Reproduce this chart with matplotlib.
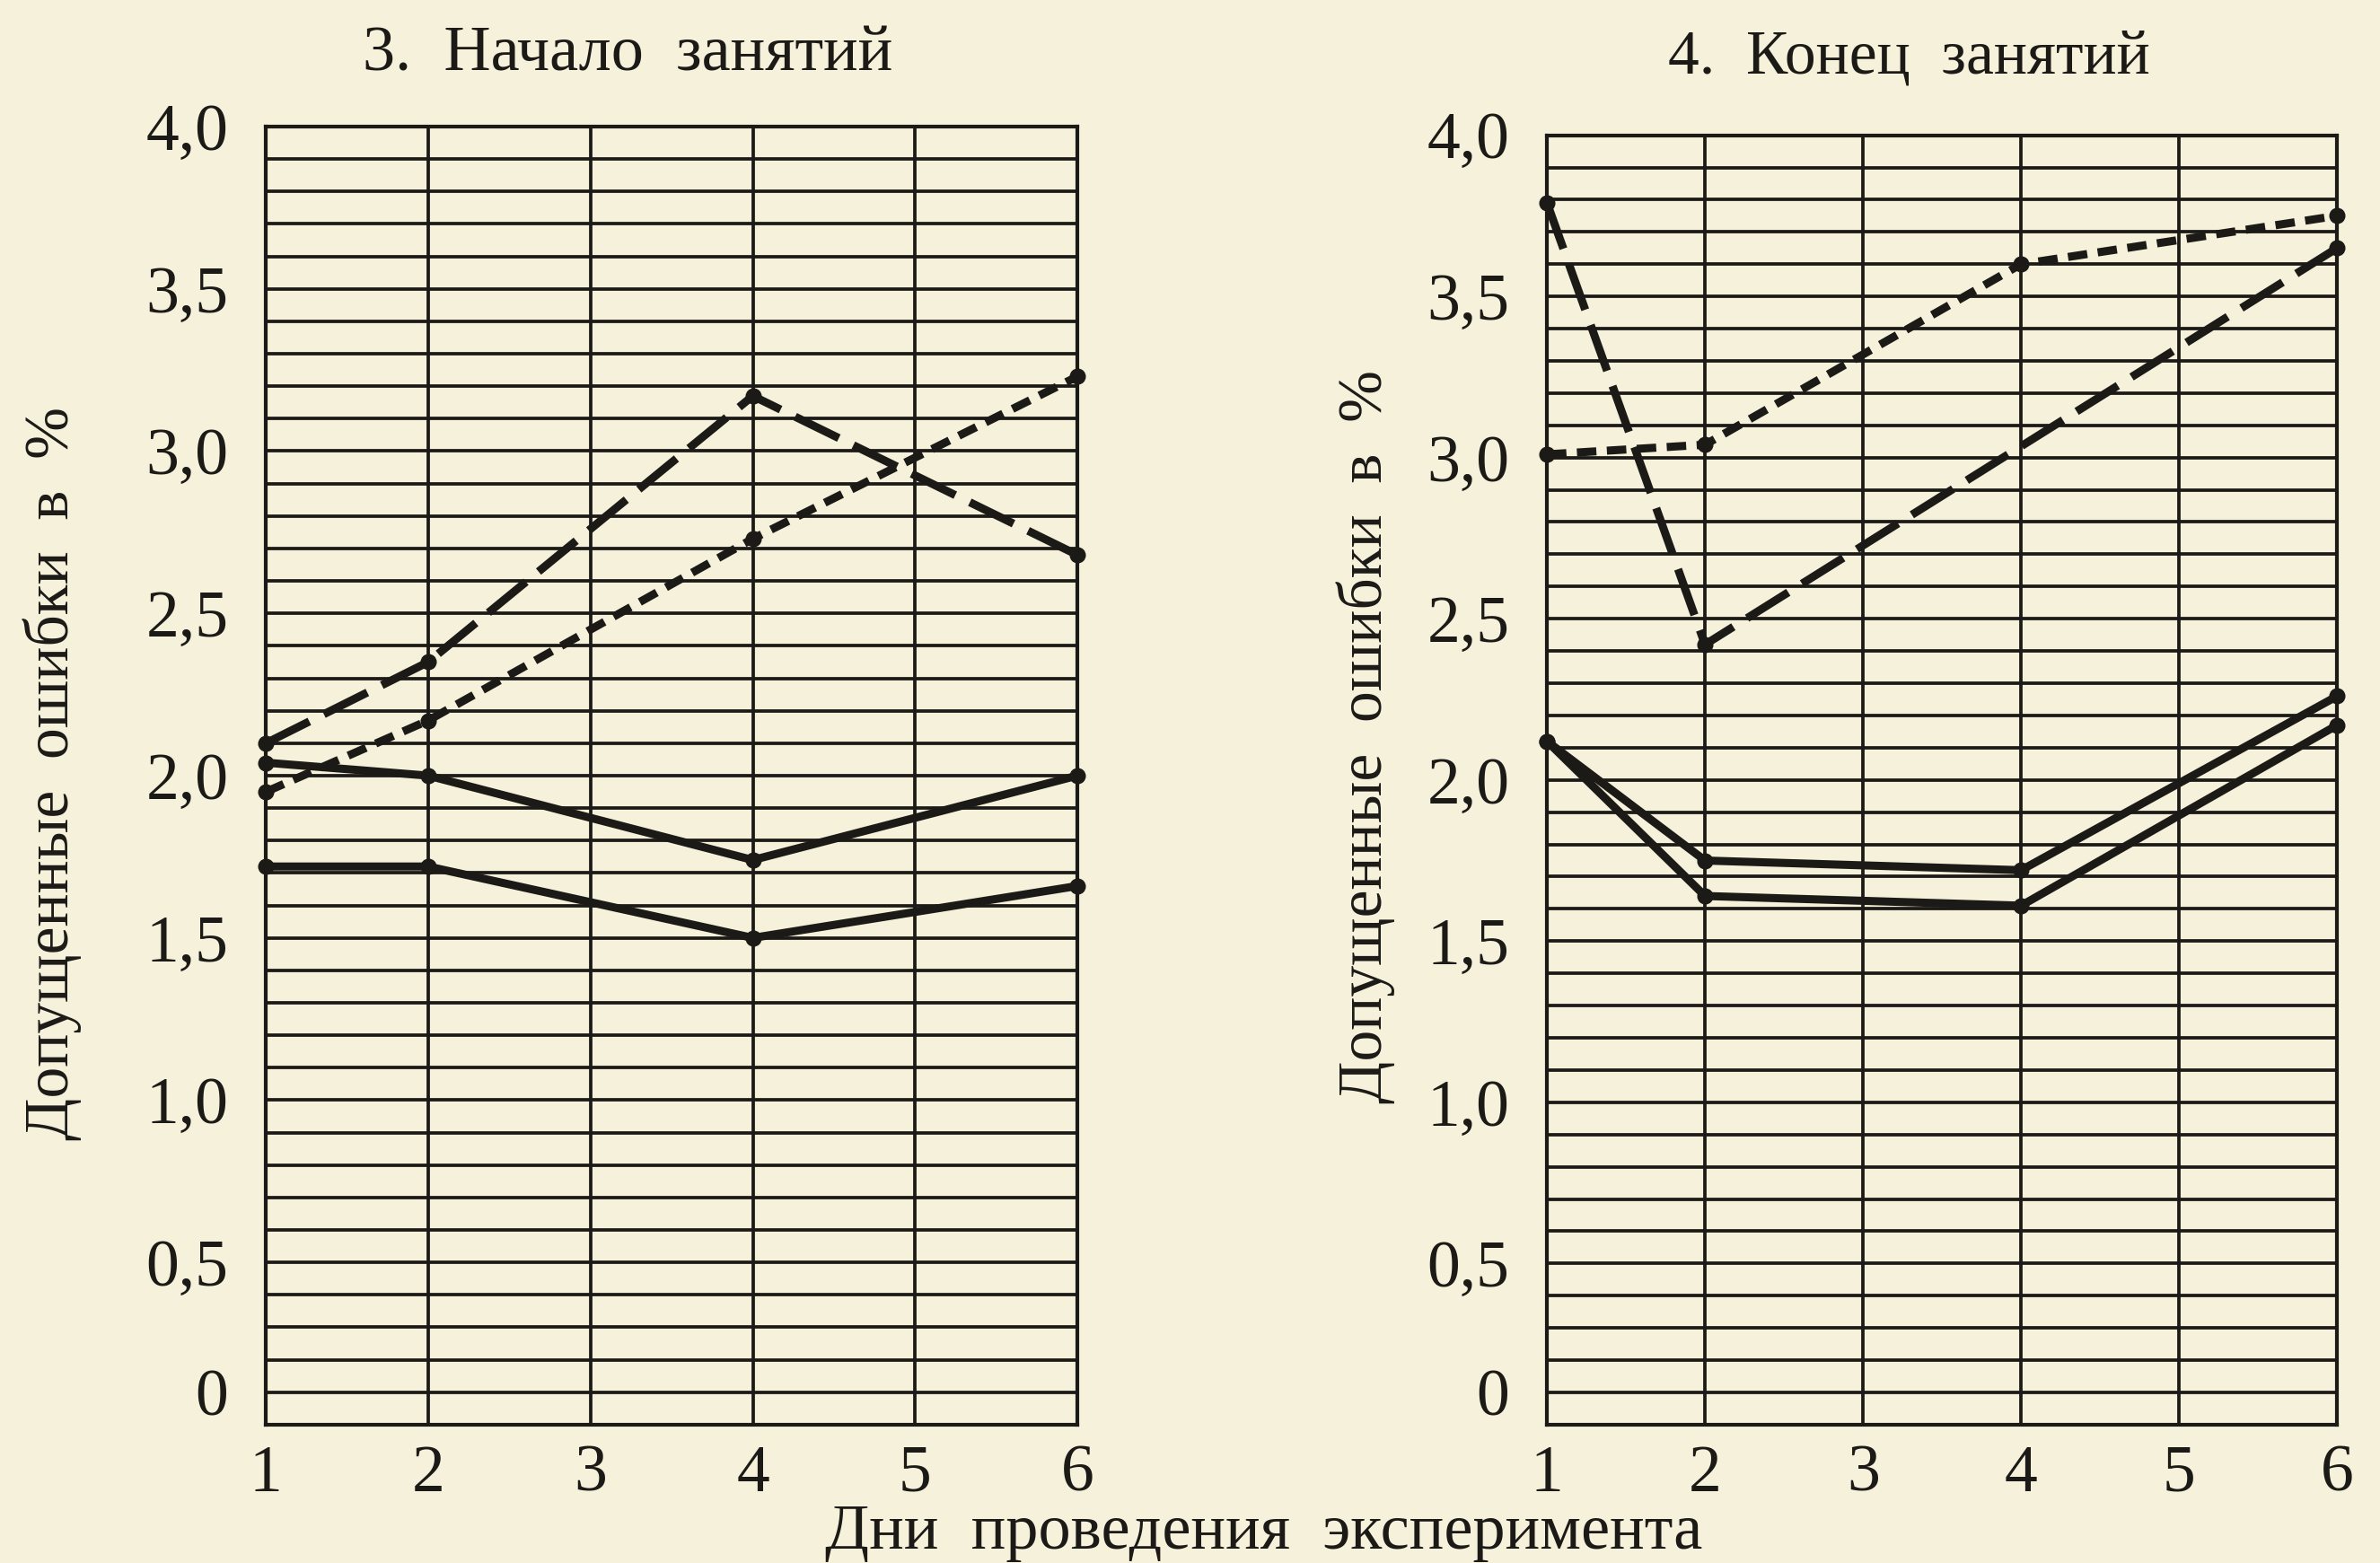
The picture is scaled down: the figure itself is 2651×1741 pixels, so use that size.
import matplotlib
matplotlib.use("Agg")
import matplotlib.pyplot as plt
import numpy as np

plt.rcParams["font.family"] = ["Liberation Serif", "DejaVu Serif"]

# --- data ---
days = [1, 2, 4, 6]
day_ticks = [1, 2, 3, 4, 5, 6]
ytick_pos = [0.1, 0.5, 1.0, 1.5, 2.0, 2.5, 3.0, 3.5, 4.0]   # "0" sits one cell up in the original
ytick_lab = ["0", "0,5", "1,0", "1,5", "2,0", "2,5", "3,0", "3,5", "4,0"]

# panel 3: start of lessons
start_long = [2.10, 2.35, 3.17, 2.68]
start_short = [1.95, 2.17, 2.73, 3.23]
start_solid_a = [2.04, 2.00, 1.74, 2.00]
start_solid_b = [1.72, 1.72, 1.50, 1.66]

# panel 4: end of lessons
end_long_days = [1, 2, 6]
end_long = [3.79, 2.42, 3.65]
end_short = [3.01, 3.04, 3.60, 3.75]
end_solid_a = [2.12, 1.75, 1.72, 2.26]
end_solid_b = [2.12, 1.64, 1.61, 2.17]

BG = "#f5f1da"
INK = "#1c1a17"
LONG = (6.0, 2.0)
SHORT = (2.4, 1.3)


def panel(ax, series):
    ax.set_facecolor(BG)
    ax.set_xlim(1, 6)
    ax.set_ylim(0, 4)
    # graph-paper grid
    ax.hlines(np.arange(0.1, 4.0, 0.1), 1, 6, color=INK, lw=2.7, zorder=1)
    ax.vlines([2, 3, 4, 5], 0, 4, color=INK, lw=2.7, zorder=1)
    for s in ax.spines.values():
        s.set_color(INK)
        s.set_linewidth(3.0)
    for x, y, dash in series:
        kw = dict(color=INK, lw=6.5, marker="o", ms=12, clip_on=False, zorder=3,
                  solid_capstyle="round", dash_capstyle="butt")
        if dash is None:
            ax.plot(x, y, ls="-", **kw)
        else:
            ax.plot(x, y, dashes=dash, **kw)
    ax.set_xticks(day_ticks)
    ax.set_xticklabels([str(d) for d in day_ticks])
    ax.set_yticks(ytick_pos)
    ax.set_yticklabels(ytick_lab)
    ax.tick_params(axis="both", length=0, labelsize=53, colors=INK)
    ax.tick_params(axis="y", pad=30)
    ax.tick_params(axis="x", pad=16)


fig = plt.figure(figsize=(26.51, 17.41), dpi=100)
fig.patch.set_facecolor(BG)

ax1 = fig.add_axes([0.1117, 0.0885, 0.341, 0.8305])
ax2 = fig.add_axes([0.650, 0.0885, 0.332, 0.825])

panel(ax1, [
    (days, start_long, LONG),
    (days, start_short, SHORT),
    (days, start_solid_a, None),
    (days, start_solid_b, None),
])
panel(ax2, [
    (end_long_days, end_long, LONG),
    (days, end_short, SHORT),
    (days, end_solid_a, None),
    (days, end_solid_b, None),
])

fig.text(0.2637, 0.965, "3.  Начало  занятий", ha="center", va="center",
         fontsize=52, color=INK)
fig.text(0.802, 0.963, "4.  Конец  занятий", ha="center", va="center",
         fontsize=50, color=INK)
fig.text(0.022, 0.505, "Допущенные  ошибки  в  %", rotation=90, ha="center",
         va="center", fontsize=50, color=INK)
fig.text(0.574, 0.529, "Допущенные  ошибки  в  %", rotation=90, ha="center",
         va="center", fontsize=50, color=INK)
fig.text(0.531, 0.019, "Дни  проведения  эксперимента", ha="center",
         va="center", fontsize=52, color=INK)

fig.savefig("out.png", dpi=100, facecolor=BG)
